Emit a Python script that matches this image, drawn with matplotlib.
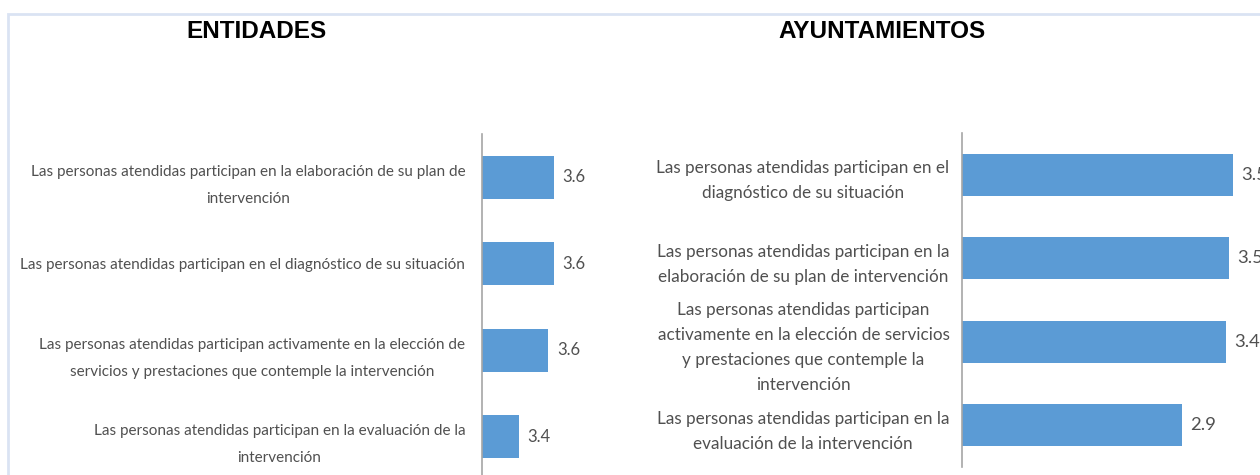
import matplotlib.pyplot as plt
from matplotlib.patches import Rectangle

# data
ent_labels = [
    "Las personas atendidas participan en la elaboración de su plan de\nintervención",
    "Las personas atendidas participan en el diagnóstico de su situación",
    "Las personas atendidas participan activamente en la elección de\nservicios y prestaciones que contemple la intervención",
    "Las personas atendidas participan en la evaluación de la\nintervención",
]
ent_values = [3.61, 3.61, 3.58, 3.41]

ayu_labels = [
    "Las personas atendidas participan en el\ndiagnóstico de su situación",
    "Las personas atendidas participan en la\nelaboración de su plan de intervención",
    "Las personas atendidas participan\nactivamente en la elección de servicios\ny prestaciones que contemple la\nintervención",
    "Las personas atendidas participan en la\nevaluación de la intervención",
]
ayu_values = [3.52, 3.47, 3.43, 2.86]

BAR = '#5B9BD5'
TXT = '#505050'
W, H = 1260, 475


def panel(rect, labels, values, xlim, fsize, pad, lsp):
    ax = fig.add_axes(rect)
    y = range(len(values))
    ax.barh(y, values, height=0.5, color=BAR)
    ax.set_xlim(*xlim)
    ax.set_ylim(len(values) - 0.5, -0.5)
    ax.set_yticks(list(y))
    ax.set_yticklabels(labels, fontsize=fsize, color=TXT, family='Lato',
                       multialignment='center', linespacing=lsp)
    ax.tick_params(axis='y', length=0, pad=pad)
    ax.set_xticks([])
    for s in ['top', 'right', 'bottom']:
        ax.spines[s].set_visible(False)
    ax.spines['left'].set_color('#A6A6A6')
    ax.spines['left'].set_linewidth(1.2)
    ax.patch.set_alpha(0)
    for i, v in enumerate(values):
        ax.annotate(f"{v:.1f}", (v, i), xytext=(6, 0), textcoords='offset points',
                    va='center', ha='left', fontsize=fsize + 1, color=TXT, family='Lato')
    return ax


fig = plt.figure(figsize=(W / 100, H / 100), dpi=100)

# light frame around the picture
fig.add_artist(Rectangle((8 / W, -0.01), 1.0, 1 - 14 / H + 0.01, transform=fig.transFigure,
                         fill=False, edgecolor='#DAE3F3', linewidth=2))

fig.text(256 / W, 1 - 31 / H, "ENTIDADES", ha='center', va='center',
         fontsize=17.5, fontweight='bold', family='Liberation Sans')
fig.text(882 / W, 1 - 31 / H, "AYUNTAMIENTOS", ha='center', va='center',
         fontsize=17.5, fontweight='bold', family='Liberation Sans')

panel([482 / W, (H - 480) / H, 158 / W, 346 / H], ent_labels, ent_values,
      (3.2, 3.2 + 158 / 175), 11, 12, 2.2)
panel([962 / W, (H - 467) / H, 298 / W, 334 / H], ayu_labels, ayu_values,
      (0, 298 / 77), 12.3, 9, 1.7)

fig.savefig('out.png', dpi=100)
